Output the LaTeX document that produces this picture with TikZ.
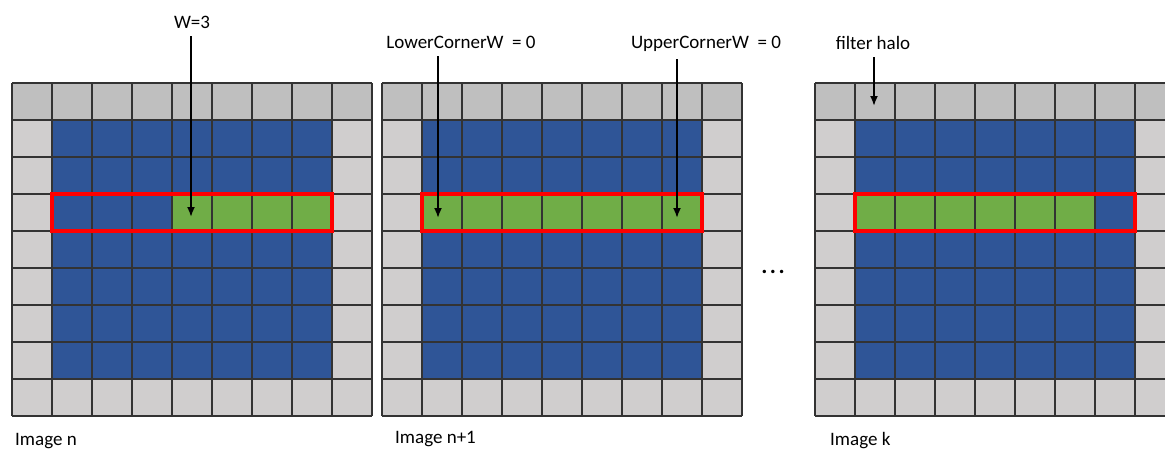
\documentclass[tikz,border=0pt]{standalone}
\usepackage{fontspec}
\setmainfont{Carlito}
\usetikzlibrary{arrows.meta}
\tikzset{>={Latex[length=10pt,width=8pt]}}
\definecolor{halo}{HTML}{D0CECE}
\definecolor{halotop}{HTML}{BFBFBF}
\definecolor{inner}{HTML}{2F5597}
\definecolor{row}{HTML}{70AD47}
\tikzset{
    lbl/.style={inner sep=0pt, anchor=base, font=\fontsize{19}{22}\selectfont},
    ptr/.style={->, line width=1.8pt, shorten <=8pt},
    gridline/.style={line width=1.2pt, draw=black!80},
    window/.style={draw=red, line width=4pt}
}
% #1 left edge, #2 first green column, #3 last green column
\newcommand{\imagegrid}[3]{
    \begin{scope}[shift={(#1,83)}]
        \fill[halo](0, 0) rectangle (360, 333);
        \fill[halotop](0, 0) rectangle (360, 37);
        \fill[inner](40, 37) rectangle (320, 296);
        \fill[row](#2*40, 111) rectangle (#3*40+40, 148);
        \foreach \i in {0,...,9}
            \draw[gridline](\i*40, 0)--(\i*40, 333);
        \foreach \j in {0,...,9}
            \draw[gridline](0, \j*37)--(360, \j*37);
        \draw[window](40, 111) rectangle (320, 148);
    \end{scope}
}

\begin{document}
\begin{tikzpicture}[x=1pt, y=-1pt]
    \clip(0, 0) rectangle (1165, 450);
    \imagegrid{12}{4}{7}
    \imagegrid{382}{1}{7}
    \imagegrid{815}{1}{6}
    \node[lbl](lblW)at(192, 28){W=3};
    \node[lbl](lblLow)at(461, 48){LowerCornerW\ \ = 0};
    \node[lbl](lblUp)at(706, 48){UpperCornerW\ \ = 0};
    \node[lbl](lblHalo)at(873, 49){filter halo};
    \coordinate(tipW)at(191, 217);
    \coordinate(tipLow)at(438, 218);
    \coordinate(tipUp)at(677, 218);
    \coordinate(tipHalo)at(874, 106);
    \draw[ptr](tipW |- lblW.south)--(tipW);
    \draw[ptr](tipLow |- lblLow.south)--(tipLow);
    \draw[ptr](tipUp |- lblUp.south)--(tipUp);
    \draw[ptr](tipHalo |- lblHalo.south)--(tipHalo);
    \node[lbl, font=\fontsize{23}{26}\bfseries](dots)at(773, 273){.\hspace{2.5pt}.\hspace{2.5pt}.};
    \node[lbl, anchor=base west](imgA)at(15, 445){Image n};
    \node[lbl, anchor=base west](imgB)at(395, 443){Image n+1};
    \node[lbl, anchor=base west](imgC)at(830, 445){Image k};
\end{tikzpicture}
\end{document}
